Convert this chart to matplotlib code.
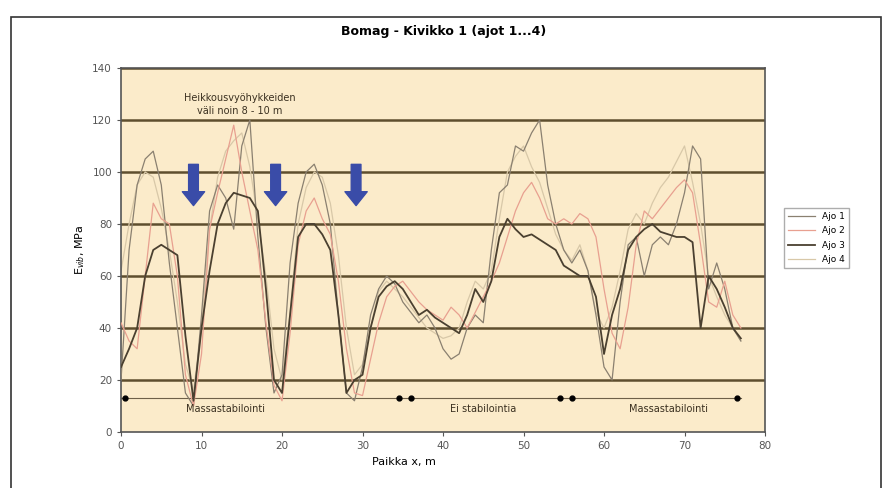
import matplotlib.pyplot as plt
from matplotlib.patches import FancyArrowPatch, Rectangle

# Paikka x (m)
x = list(range(0, 78))

ajo1 = [20, 70, 95, 105, 108, 95, 65, 40, 15, 10, 45, 85, 95, 90, 78, 110, 120, 75, 40, 15,
        22, 65, 88, 100, 103, 95, 80, 45, 15, 12, 25, 45, 55, 60, 57, 50, 46, 42, 45, 40,
        32, 28, 30, 40, 45, 42, 70, 92, 95, 110, 108, 115, 120, 95, 80, 70, 65, 70, 62, 45,
        25, 20, 50, 72, 75, 60, 72, 75, 72, 80, 92, 110, 105, 55, 65, 55, 40, 35]
ajo2 = [42, 35, 32, 60, 88, 82, 80, 60, 22, 10, 30, 78, 92, 105, 118, 100, 85, 70, 42, 18,
        12, 38, 72, 85, 90, 82, 76, 58, 32, 15, 14, 28, 42, 52, 56, 58, 54, 50, 47, 45,
        43, 48, 45, 40, 46, 52, 58, 65, 75, 85, 92, 96, 90, 82, 80, 82, 80, 84, 82, 75,
        55, 38, 32, 48, 72, 85, 82, 86, 90, 94, 97, 92, 72, 50, 48, 58, 45, 40]
ajo3 = [25, 32, 40, 60, 70, 72, 70, 68, 37, 12, 40, 62, 80, 88, 92, 91, 90, 85, 55, 20,
        15, 45, 75, 80, 80, 76, 70, 45, 15, 20, 22, 40, 52, 56, 58, 55, 50, 45, 47, 44,
        42, 40, 38, 45, 55, 50, 58, 75, 82, 78, 75, 76, 74, 72, 70, 64, 62, 60, 60, 52,
        30, 45, 55, 70, 75, 78, 80, 77, 76, 75, 75, 73, 40, 60, 55, 48, 40, 36]
ajo4 = [62, 80, 95, 100, 98, 86, 70, 50, 26, 16, 40, 78, 98, 108, 112, 115, 102, 82, 60, 32,
        20, 46, 80, 94, 100, 98, 88, 68, 40, 22, 26, 40, 54, 58, 55, 52, 48, 44, 40, 38,
        36, 37, 40, 50, 58, 55, 62, 82, 100, 106, 110, 102, 96, 86, 76, 70, 66, 72, 62, 46,
        40, 48, 62, 78, 84, 80, 88, 94, 98, 104, 110, 96, 80, 60, 52, 45, 40, 35]

# Stabilointiosuuksien rajat
rajat_x = [0.5, 34.5, 36, 54.5, 56, 76.5]
osuudet = ["Massastabilointi", "Ei stabilointia", "Massastabilointi"]
osuus_x = [13, 45, 68]
nuolet_x = [9, 19.2, 29.2]

fig = plt.figure(figsize=(8.88, 4.88), dpi=100)
fig.patches.append(Rectangle((0.012, -0.01), 0.98, 0.975, transform=fig.transFigure,
                             fill=False, edgecolor='#333333', lw=1.2))
ax = fig.add_axes([0.1363, 0.1148, 0.7252, 0.7459])
ax.set_facecolor('#fbebca')

for yy in range(20, 141, 20):
    ax.axhline(yy, color='#5e4e2e', lw=1.8, zorder=1)

ax.plot(x, ajo1, color='#8a8070', lw=0.9, label='Ajo 1', zorder=3)
ax.plot(x, ajo2, color='#e8a090', lw=0.9, label='Ajo 2', zorder=3)
ax.plot(x, ajo3, color='#4a4030', lw=1.3, label='Ajo 3', zorder=4)
ax.plot(x, ajo4, color='#d8c8a8', lw=0.9, label='Ajo 4', zorder=2)

ax.plot([0, 77], [13, 13], color='#6e6048', lw=0.8, zorder=2)
ax.plot(rajat_x, [13] * len(rajat_x), 'o', color='black', ms=3.5, zorder=5)
for t, xx in zip(osuudet, osuus_x):
    ax.text(xx, 9, t, ha='center', va='center', fontsize=7, color='#3a3020')

for xx in nuolet_x:
    ax.add_patch(FancyArrowPatch((xx, 104), (xx, 86), arrowstyle='simple,head_width=1.6,head_length=1.0,tail_width=0.7',
                                 mutation_scale=10, color='#3a4ca8', zorder=6))

ax.text(14.8, 126, "Heikkousvyöhykkeiden\nväli noin 8 - 10 m", ha='center', va='center',
        fontsize=7, color='#3a3020', linespacing=1.3)

ax.set_xlim(0, 80)
ax.set_ylim(0, 140)
ax.set_xticks(range(0, 81, 10))
ax.set_yticks(range(0, 141, 20))
ax.tick_params(labelsize=7.5, colors='#555555', length=3)
for s in ax.spines.values():
    s.set_color('#555555')
    s.set_linewidth(1.2)

ax.set_xlabel('Paikka x, m', fontsize=8, x=0.44)
ax.set_ylabel(r'E$_{vib}$, MPa', fontsize=8)
fig.text(0.5, 0.935, 'Bomag - Kivikko 1 (ajot 1...4)', ha='center', va='center',
         fontsize=9, fontweight='bold')

fig.legend(loc='center left', bbox_to_anchor=(0.878, 0.512), fontsize=6.5, frameon=True,
           fancybox=False, edgecolor='#999999', handlelength=3, labelspacing=0.6)

fig.savefig('out.png', dpi=100)
